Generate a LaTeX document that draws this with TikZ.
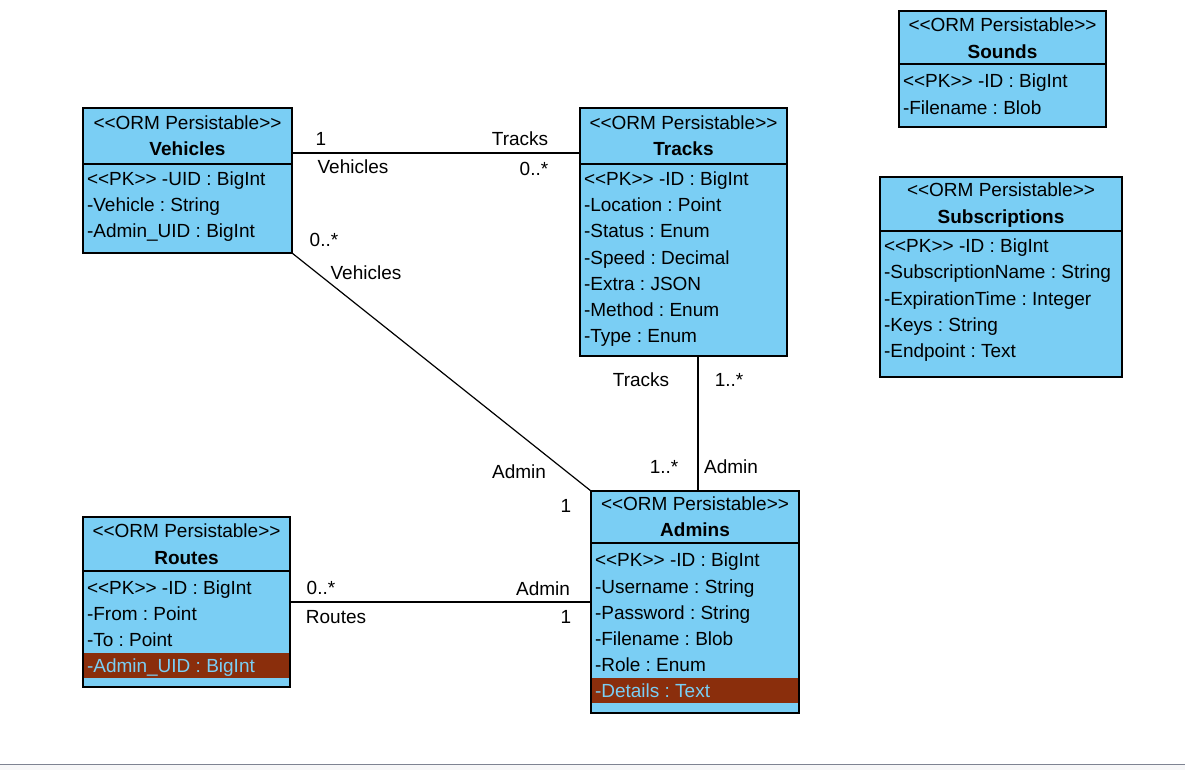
\documentclass[tikz,border=0pt]{standalone}
\usepackage{fontspec}
\setmainfont{Liberation Sans}
\frenchspacing
\newcommand\stl{{<}\kern0pt{<}}
\newcommand\stg{{>}\kern0pt{>}}
\definecolor{boxfill}{HTML}{7ACEF4}
\definecolor{hlfill}{HTML}{8A2E0C}
\definecolor{hltext}{HTML}{7ACEF4}
\definecolor{botline}{HTML}{7E8392}
\definecolor{botfill}{HTML}{F7F7F8}
\begin{document}
\begin{tikzpicture}[x=1pt,y=-1pt,
  every node/.style={font=\fontsize{19}{22}\selectfont, inner sep=0pt, outer sep=0pt},
  classbox/.style={draw=black, line width=1.2pt, fill=boxfill, anchor=north west, minimum width=#1},
  attr/.style={anchor=base west},
  hdr/.style={anchor=base},
  lbl/.style={anchor=base},
  divline/.style={draw=black, line width=1.2pt},
  conn/.style={draw=black, line width=1.2pt}]
\useasboundingbox (0,0) rectangle (1185,770);
\fill[botfill] (0,764) rectangle (1185,770);
\draw[botline, line width=1pt] (0,764) -- (1185,764);

% ---------- Vehicles
\node[classbox=209pt, minimum height=145pt] (veh) at (83,108) {};
\draw[divline] (83,164) -- (292,164);
\node[hdr] (vehS) at (187.5,129.5) {\stl ORM Persistable\stg};
\node[hdr] (vehN) at (187.5,155.5) {\bfseries Vehicles};
\node[attr] (veh1) at (87,185.5) {\stl PK\stg{} -UID : BigInt};
\node[attr] (veh2) at (87,211.5) {-Vehicle : String};
\node[attr] (veh3) at (87,237.5) {-Admin\_UID : BigInt};

% ---------- Tracks
\node[classbox=207pt, minimum height=248pt] (trk) at (580,108) {};
\draw[divline] (580,164) -- (787,164);
\node[hdr] (trkS) at (683.5,129.5) {\stl ORM Persistable\stg};
\node[hdr] (trkN) at (683.5,155.5) {\bfseries Tracks};
\node[attr] (trk1) at (584,185.5) {\stl PK\stg{} -ID : BigInt};
\node[attr] (trk2) at (584,211.5) {-Location : Point};
\node[attr] (trk3) at (584,237.5) {-Status : Enum};
\node[attr] (trk4) at (584,264.5) {-Speed : Decimal};
\node[attr] (trk5) at (584,290.5) {-Extra : JSON};
\node[attr] (trk6) at (584,316.5) {-Method : Enum};
\node[attr] (trk7) at (584,342.5) {-Type : Enum};

% ---------- Sounds
\node[classbox=207pt, minimum height=116pt] (snd) at (899,11) {};
\draw[divline] (899,64) -- (1106,64);
\node[hdr] (sndS) at (1002.5,31.5) {\stl ORM Persistable\stg};
\node[hdr] (sndN) at (1002.5,58.5) {\bfseries Sounds};
\node[attr] (snd1) at (903,87.5) {\stl PK\stg{} -ID : BigInt};
\node[attr] (snd2) at (903,114.5) {-Filename : Blob};

% ---------- Subscriptions
\node[classbox=242pt, minimum height=200pt] (sub) at (880,177) {};
\draw[divline] (880,231) -- (1122,231);
\node[hdr] (subS) at (1001,196.5) {\stl ORM Persistable\stg};
\node[hdr] (subN) at (1001,223.5) {\bfseries Subscriptions};
\node[attr] (sub1) at (884,252.5) {\stl PK\stg{} -ID : BigInt};
\node[attr] (sub2) at (884,278.5) {-SubscriptionName : String};
\node[attr] (sub3) at (884,305.5) {-ExpirationTime : Integer};
\node[attr] (sub4) at (884,331.5) {-Keys : String};
\node[attr] (sub5) at (884,357.5) {-Endpoint : Text};

% ---------- Routes
\node[classbox=207pt, minimum height=170pt] (rts) at (83,517) {};
\fill[hlfill] (84,653) rectangle (289,678);
\draw[divline] (83,571) -- (290,571);
\node[hdr] (rtsS) at (186.5,537.5) {\stl ORM Persistable\stg};
\node[hdr] (rtsN) at (186.5,564.5) {\bfseries Routes};
\node[attr] (rts1) at (87,594.5) {\stl PK\stg{} -ID : BigInt};
\node[attr] (rts2) at (87,620.5) {-From : Point};
\node[attr] (rts3) at (87,646.5) {-To : Point};
\node[attr, text=hltext] (rts4) at (87,672.5) {-Admin\_UID : BigInt};

% ---------- Admins
\node[classbox=208pt, minimum height=222pt] (adm) at (591,491) {};
\fill[hlfill] (592,678) rectangle (798,703);
\draw[divline] (591,543) -- (799,543);
\node[hdr] (admS) at (695,510.5) {\stl ORM Persistable\stg};
\node[hdr] (admN) at (695,536.5) {\bfseries Admins};
\node[attr] (adm1) at (595,566.5) {\stl PK\stg{} -ID : BigInt};
\node[attr] (adm2) at (595,593.5) {-Username : String};
\node[attr] (adm3) at (595,619.5) {-Password : String};
\node[attr] (adm4) at (595,645.5) {-Filename : Blob};
\node[attr] (adm5) at (595,671.5) {-Role : Enum};
\node[attr, text=hltext] (adm6) at (595,697.5) {-Details : Text};

% ---------- Connectors
\draw[conn] ([yshift=-45pt]veh.north east) -- ([yshift=-45pt]trk.north west);
\draw[conn] (veh.south east) -- (adm.north west);
\draw[conn] ([xshift=118pt]trk.south west) coordinate (tA) -- (tA |- adm.north);
\draw[conn] (rts.east) -- (rts.east -| adm.west);

% ---------- Labels
\node[lbl] (l1) at (321,145.5) {1};
\node[lbl] (l2) at (353,173.5) {Vehicles};
\node[lbl] (l3) at (520,145.5) {Tracks};
\node[lbl] (l4) at (534,175.5) {0..*};

\node[lbl] (l5) at (324,246.5) {0..*};
\node[lbl] (l6) at (366,279.5) {Vehicles};
\node[lbl] (l7) at (519,478.5) {Admin};
\node[lbl] (l8) at (566,512.5) {1};

\node[lbl] (l9) at (641,386.5) {Tracks};
\node[lbl] (l10) at (729,386.5) {1..*};
\node[lbl] (l11) at (664,473.5) {1..*};
\node[lbl] (l12) at (731,473.5) {Admin};

\node[lbl] (l13) at (321,594.5) {0..*};
\node[lbl] (l14) at (336,623.5) {Routes};
\node[lbl] (l15) at (543,595.5) {Admin};
\node[lbl] (l16) at (566,623.5) {1};
\end{tikzpicture}
\end{document}
